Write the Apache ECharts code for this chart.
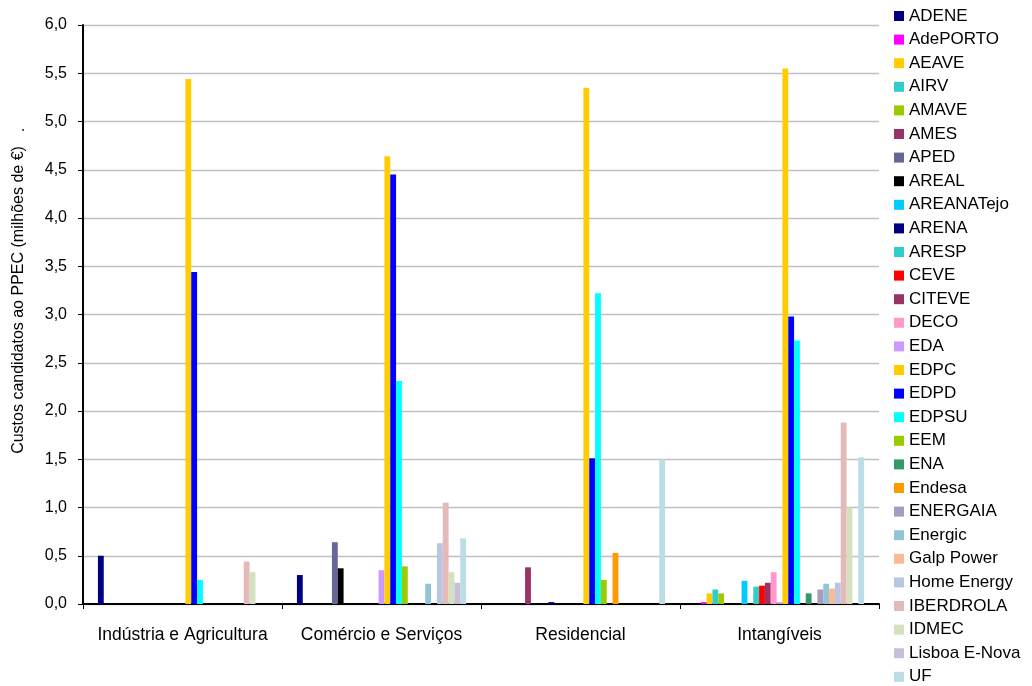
<!DOCTYPE html>
<html>
<head>
<meta charset="utf-8">
<script src="https://cdn.jsdelivr.net/npm/echarts@6/dist/echarts.min.js"></script>
<style>
  html, body { margin: 0; padding: 0; background: #ffffff; }
  #chart { width: 1032px; height: 686px; }
</style>
</head>
<body>
<div id="chart"></div>
<script>
// Sector groups on the x axis
const categories = ['Indústria e Agricultura', 'Comércio e Serviços', 'Residencial', 'Intangíveis'];

// Promoters (one bar series each, in legend order)
const promoters = [
  'ADENE', 'AdePORTO', 'AEAVE', 'AIRV', 'AMAVE', 'AMES', 'APED', 'AREAL',
  'AREANATejo', 'ARENA', 'ARESP', 'CEVE', 'CITEVE', 'DECO', 'EDA', 'EDPC',
  'EDPD', 'EDPSU', 'EEM', 'ENA', 'Endesa', 'ENERGAIA', 'Energic', 'Galp Power',
  'Home Energy', 'IBERDROLA', 'IDMEC', 'Lisboa E-Nova', 'UF'
];

// Candidate costs (millions of €) per promoter, one array per sector
const industriaAgricultura = [0.50, 0, 0, 0, 0, 0, 0, 0, 0, 0, 0, 0, 0, 0, 0, 5.44,
  3.44, 0.25, 0, 0, 0, 0, 0, 0, 0, 0.44, 0.33, 0, 0];
const comercioServicos = [0.30, 0, 0, 0, 0, 0, 0.64, 0.37, 0, 0, 0, 0, 0, 0, 0.35, 4.64,
  4.45, 2.31, 0.39, 0, 0, 0, 0.21, 0, 0.63, 1.05, 0.33, 0.22, 0.68];
const residencial = [0, 0, 0, 0, 0, 0.38, 0, 0, 0, 0.02, 0, 0, 0, 0, 0, 5.35,
  1.51, 3.22, 0.25, 0, 0.53, 0, 0, 0, 0, 0, 0, 0, 1.50];
const intangiveis = [0, 0.02, 0.11, 0.15, 0.11, 0, 0, 0, 0.24, 0, 0.18, 0.19, 0.22, 0.33, 0.02, 5.55,
  2.98, 2.73, 0, 0.11, 0, 0.15, 0.21, 0.16, 0.22, 1.88, 1.00, 0, 1.52];

// Value-axis ticks
const yTicks = [0, 0.5, 1, 1.5, 2, 2.5, 3, 3.5, 4, 4.5, 5, 5.5, 6];

const palette = [
  '#000080', '#FF00FF', '#FFCC00', '#33CCCC', '#99CC00', '#993366', '#666699', '#000000',
  '#00CCFF', '#000080', '#33CCCC', '#FF0000', '#993366', '#FF99CC', '#CC99FF', '#FFCC00',
  '#0000FF', '#00FFFF', '#99CC00', '#339966', '#FF9900', '#A69CC0', '#93C4D6', '#FABA94',
  '#B9C6E2', '#E3B9B9', '#D4E0BE', '#C9BFD9', '#BCDCE6'
];

const sectors = [industriaAgricultura, comercioServicos, residencial, intangiveis];
const FONT = '"Liberation Sans", Arial, sans-serif';

// Empty cells (0) are left blank rather than drawn as flat bars
const series = promoters.map((name, i) => ({
  name: name,
  type: 'bar',
  data: sectors.map(s => (s[i] === 0 ? null : s[i])),
  itemStyle: { color: palette[i] },
  barGap: '0%',
  barCategoryGap: '15%',
  animation: false
}));

const chart = echarts.init(document.getElementById('chart'), null, { renderer: 'canvas' });
chart.setOption({
  backgroundColor: '#ffffff',
  animation: false,
  grid: { left: 83, right: 153, top: 25, bottom: 82, containLabel: false },
  legend: {
    orient: 'vertical',
    left: 894,
    top: 7.5,
    padding: 0,
    itemWidth: 10,
    itemHeight: 10,
    itemGap: 6.6,
    icon: 'rect',
    data: promoters,
    textStyle: { fontFamily: FONT, fontSize: 17, color: '#000', lineHeight: 17 }
  },
  xAxis: {
    type: 'category',
    data: categories,
    axisLine: { lineStyle: { color: '#000', width: 2 } },
    axisTick: { show: true, interval: 0, length: 5, lineStyle: { color: '#000', width: 1 } },
    axisLabel: { interval: 0, fontFamily: FONT, fontSize: 17.5, color: '#000', margin: 22 }
  },
  yAxis: {
    type: 'value',
    min: yTicks[0],
    max: yTicks[yTicks.length - 1],
    interval: yTicks[1] - yTicks[0],
    axisLine: { show: true, lineStyle: { color: '#000', width: 2 } },
    axisTick: { show: true, length: 5, lineStyle: { color: '#000', width: 1 } },
    splitLine: { lineStyle: { color: '#C0C0C0', width: 1.3 } },
    axisLabel: {
      fontFamily: FONT, fontSize: 16, color: '#000', margin: 16,
      formatter: v => v.toFixed(1).replace('.', ',')
    }
  },
  graphic: [
    {
      type: 'text',
      x: 19, y: 300,
      rotation: Math.PI / 2,
      style: {
        text: 'Custos candidatos ao PPEC (milhões de €)',
        fontFamily: FONT, fontSize: 16, fill: '#000',
        textAlign: 'center', textVerticalAlign: 'middle'
      }
    },
    {
      type: 'text',
      x: 20, y: 130,
      rotation: Math.PI / 2,
      style: {
        text: '.',
        fontFamily: FONT, fontSize: 16, fill: '#000',
        textAlign: 'center', textVerticalAlign: 'middle'
      }
    }
  ],
  series: series
});
</script>
</body>
</html>
